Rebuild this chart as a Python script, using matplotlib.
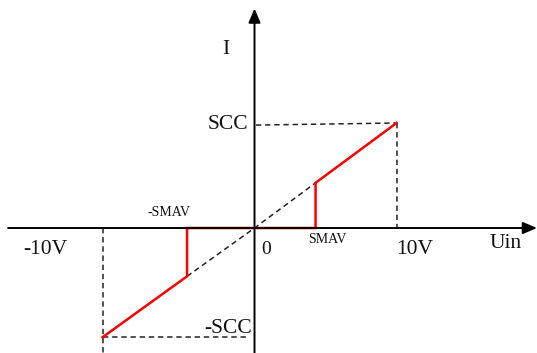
import matplotlib
matplotlib.use("Agg")
import matplotlib.pyplot as plt

plt.rcParams['font.family'] = ['Liberation Serif', 'DejaVu Serif']

# characteristic curve (u in volts, i in chart units)
red_u = [10.0, 4.3, 4.3, -4.75, -4.75, -10.7]
red_i = [10.0, 4.3, 0.0, 0.0, -4.6, -10.4]

# dashed helper lines
ideal_u = [-4.75, 0.0, 4.3]          # proportional line through the origin
ideal_i = [-4.6, 0.0, 4.3]
scc_u, scc_i = [0.1, 10.0], [9.8, 10.0]
nscc_u, nscc_i = [-10.7, -0.45], [-10.4, -10.4]
v10_u, v10_i = [10.0, 10.0], [10.0, 0.0]
nv10_u, nv10_i = [-10.7, -10.7], [0.0, -12.0]

# labels
labels = ['I', 'SCC', '-SCC', '-SMAV', 'SMAV', '0', '-10V', '10V', 'Uin']
label_u = [-2.05, -0.45, -0.15, -6.0, 5.1, 0.85, -14.75, 11.3, 17.7]
label_i = [17.0, 9.9, -9.55, 1.45, -1.05, -2.05, -2.05, -2.0, -1.5]
label_size = [15.5, 15.5, 15.5, 10, 10, 14, 15.5, 15.5, 15.5]
label_ha = ['center', 'right', 'right', 'center', 'center', 'center', 'center', 'center', 'center']

fig = plt.figure(figsize=(5.37, 3.53), dpi=100)
ax = fig.add_axes([0, 0, 1, 1])
ax.set_xlim(-17.92, 19.89)
ax.set_ylim(-11.9, 21.71)
ax.axis('off')

# axes with arrow heads
arrow = dict(arrowstyle='-|>,head_length=0.85,head_width=0.36', lw=1.4,
             color='black', shrinkA=0, shrinkB=0, mutation_scale=10)
ax.annotate('', xy=(19.89, 0), xytext=(-17.35, 0), arrowprops=arrow)
ax.annotate('', xy=(0, 20.9), xytext=(0, -11.9), arrowprops=arrow)

dash = dict(color='#222222', lw=1.1, dashes=(3.5, 2.5))
ax.plot(ideal_u, ideal_i, **dash)
ax.plot(scc_u, scc_i, **dash)
ax.plot(nscc_u, nscc_i, **dash)
ax.plot(v10_u, v10_i, **dash)
ax.plot(nv10_u, nv10_i, **dash)

ax.plot(red_u, red_i, color='#ff0000', lw=1.8, solid_joinstyle='miter')

for t, u, i, s, ha in zip(labels, label_u, label_i, label_size, label_ha):
    ax.text(u, i, t, fontsize=s, ha=ha, va='center', color='#111111')

fig.savefig('out.png', dpi=100)
